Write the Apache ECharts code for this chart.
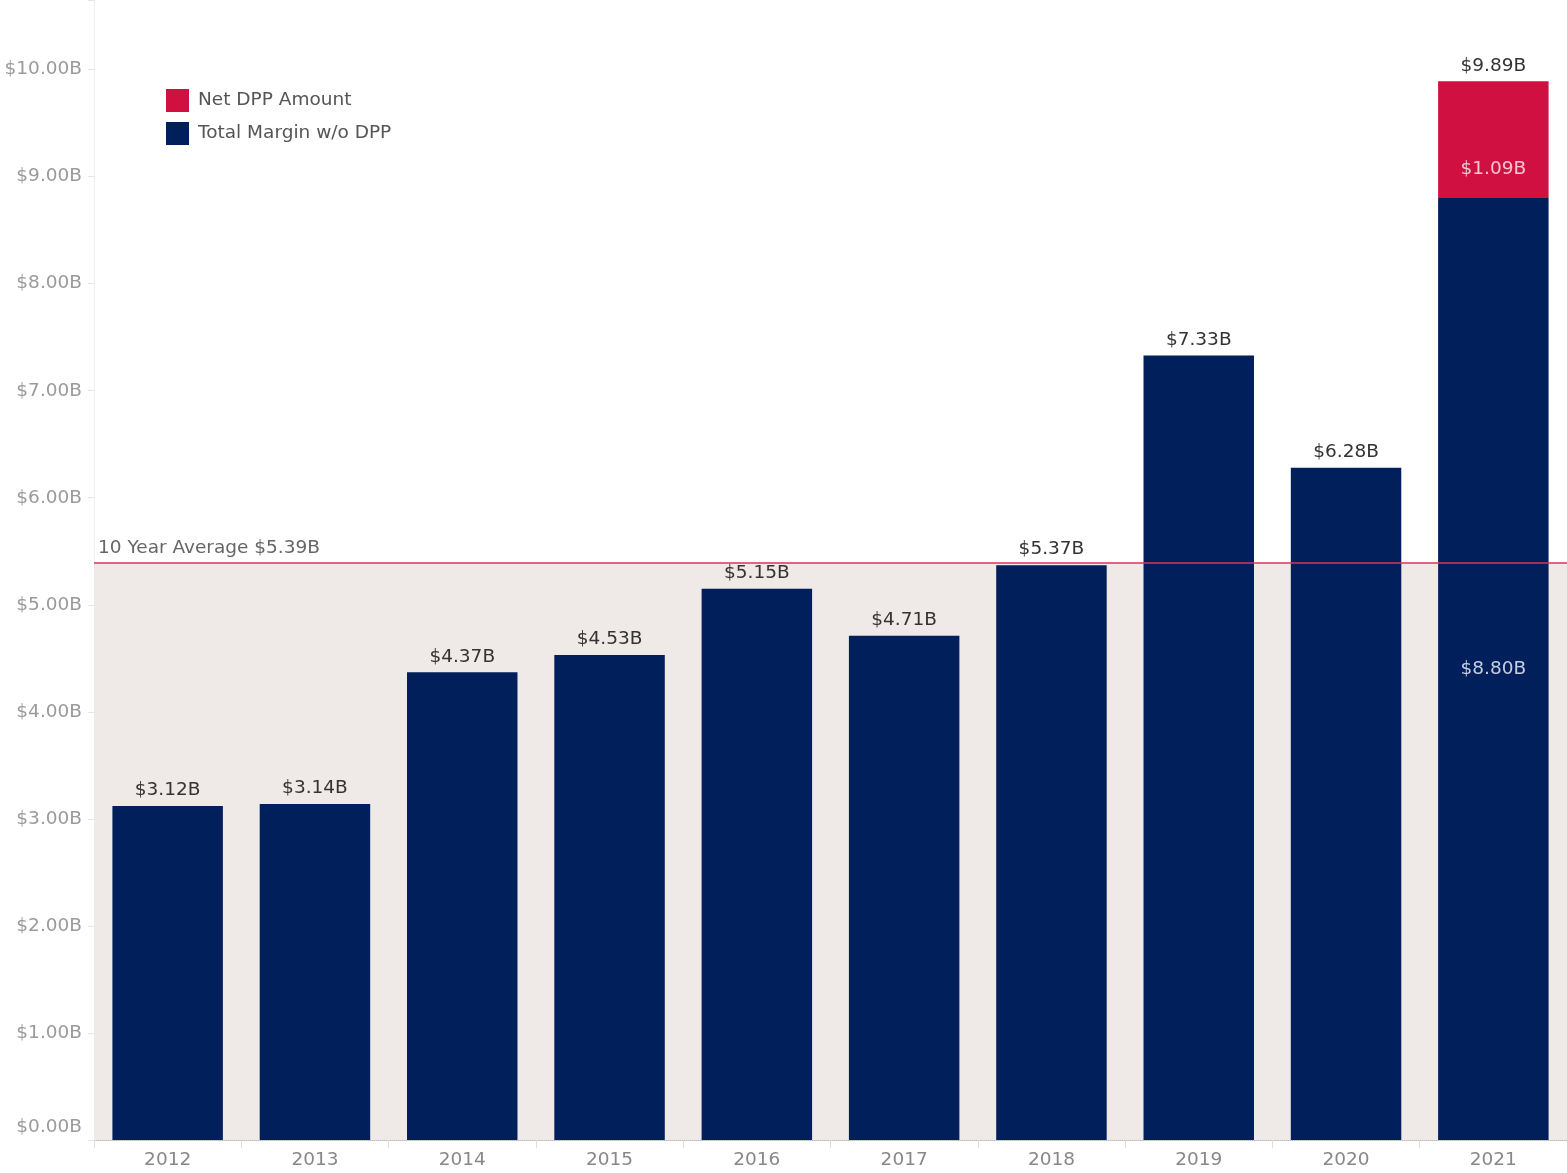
<!DOCTYPE html>
<html>
<head>
<meta charset="utf-8">
<script src="https://cdn.jsdelivr.net/npm/echarts@6/dist/echarts.min.js"></script>
<style>
html,body{margin:0;padding:0;background:#fff;}
#chart{width:1567px;height:1173px;}
</style>
</head>
<body>
<div id="chart"></div>
<script>
const years = ['2012','2013','2014','2015','2016','2017','2018','2019','2020','2021'];
const marginWoDpp = [3.12, 3.14, 4.37, 4.53, 5.15, 4.71, 5.37, 7.33, 6.28, 8.80];
const netDpp = [null, null, null, null, null, null, null, null, null, 1.09];
const totalLabels = [null, null, null, null, null, null, null, null, null, 9.89];
const tenYearAverage = 5.39;
const yTicks = [0,1,2,3,4,5,6,7,8,9,10];

const fmt = v => '$' + v.toFixed(2) + 'B';
const FONT = 'DejaVu Sans';
const FS = 18.5;
const NAVY = '#001f5b';
const RED = '#cf1040';

const chart = echarts.init(document.getElementById('chart'));
chart.setOption({
  animation: false,
  textStyle: {fontFamily: FONT},
  grid: {left: 94, right: 0, top: 0, bottom: 33},
  legend: {
    orient: 'vertical', left: 161, top: 84,
    itemWidth: 23, itemHeight: 23, itemGap: 10,
    textStyle: {fontSize: FS, color: '#555', fontFamily: FONT, padding: [0, 0, 0, 4]},
    data: [{name: 'Net DPP Amount', icon: 'rect'}, {name: 'Total Margin w/o DPP', icon: 'rect'}]
  },
  xAxis: {
    type: 'category', data: years,
    axisLine: {lineStyle: {color: '#bbb', type: 'dotted'}},
    axisTick: {show: true, length: 8, lineStyle: {color: '#ddd'}},
    axisLabel: {fontSize: FS, color: '#888', margin: 11, fontFamily: FONT}
  },
  yAxis: {
    type: 'value', min: 0, max: 10.65, interval: 1,
    axisLine: {show: true, lineStyle: {color: '#eee'}},
    axisTick: {show: true, length: 6, lineStyle: {color: '#e4e4e4'}},
    splitLine: {show: false},
    axisLabel: {
      fontSize: FS, color: '#9a9a9a', margin: 12, fontFamily: FONT,
      formatter: v => yTicks.indexOf(v) < 0 ? '' : (v === 0 ? '{z|' + fmt(v) + '}' : fmt(v)),
      rich: {z: {fontSize: FS, color: '#9a9a9a', fontFamily: FONT, padding: [0, 0, 26, 0]}}
    }
  },
  series: [
    {
      name: 'Total Margin w/o DPP', type: 'bar', stack: 'a', barWidth: '75%',
      itemStyle: {color: NAVY},
      data: marginWoDpp.map((v, i) => ({
        value: v,
        label: i === years.length - 1 ?
          {show: true, position: 'inside', color: '#c8cde0', fontSize: FS, formatter: p => fmt(p.value)} :
          {show: true, position: 'top', distance: 6, color: '#333', fontSize: FS, formatter: p => fmt(p.value)}
      })),
      markArea: {
        silent: true,
        itemStyle: {color: '#efe9e7'},
        data: [[{yAxis: 0}, {yAxis: tenYearAverage}]]
      },
      markLine: {
        silent: true, symbol: 'none',
        lineStyle: {color: '#d6375c', width: 1.5, type: 'solid'},
        label: {show: true, position: 'insideStartTop', formatter: '10 Year Average ' + fmt(tenYearAverage),
                color: '#666', fontSize: FS, distance: [4, 5]},
        data: [{yAxis: tenYearAverage}]
      }
    },
    {
      name: 'Net DPP Amount', type: 'bar', stack: 'a', barWidth: '75%',
      itemStyle: {color: RED},
      label: {show: true, position: 'insideBottom', distance: 19, color: '#f6c6d2', fontSize: FS,
              formatter: p => p.value == null ? '' : fmt(p.value)},
      data: netDpp
    },
    {
      name: 'total', type: 'bar', stack: 'a', barWidth: '75%',
      itemStyle: {color: 'transparent'},
      label: {show: true, position: 'top', distance: 6, color: '#333', fontSize: FS,
              formatter: p => totalLabels[p.dataIndex] == null ? '' : fmt(totalLabels[p.dataIndex])},
      data: totalLabels.map(v => v == null ? null : 0)
    }
  ]
});
</script>
</body>
</html>
